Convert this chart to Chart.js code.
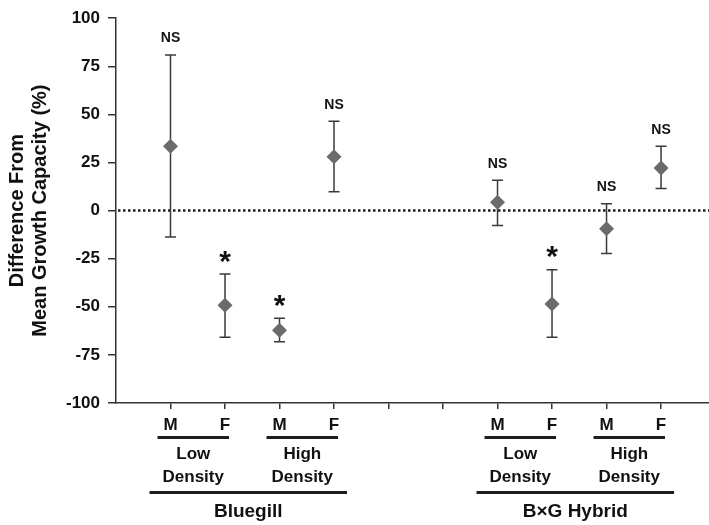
<!DOCTYPE html>
<html><head><meta charset="utf-8">
<script src="https://cdn.jsdelivr.net/npm/chart.js@4.4.0/dist/chart.umd.min.js"></script>
<style>html,body{margin:0;padding:0;background:#fff}#wrap{width:709px;height:525px}</style>
</head><body><div id="wrap"><canvas id="c" width="709" height="525"></canvas></div>
<script>
const FONT = "'Liberation Sans', Arial, Helvetica, sans-serif";

// Slots along the x axis (empty slots separate the two species)
const slotLabels = ['M', 'F', 'M', 'F', '', '', 'M', 'F', 'M', 'F'];
const means  = [33.4, -49.2, -62.2, 28.0, null, null, 4.3, -48.5, -9.4, 22.2];
const upper  = [80.9, -33.0, -56.0, 46.5, null, null, 15.8, -30.8, 3.6, 33.5];
const lower  = [-13.7, -65.8, -68.2, 9.8, null, null, -7.7, -65.8, -22.3, 11.5];
const signif = ['NS', '*', '*', 'NS', '', '', 'NS', '*', 'NS', 'NS'];

const densityLabels = [['Low', 'Density'], ['High', 'Density'], ['Low', 'Density'], ['High', 'Density']];
const densitySlots  = [[0, 1], [2, 3], [6, 7], [8, 9]];
const speciesLabels = ['Bluegill', 'B×G Hybrid'];
const speciesSlots  = [[0, 3], [6, 9]];

const yTickMin = -100, yTickMax = 100, yTickStep = 25;

const points = [];
means.forEach((m, i) => { if (m !== null) points.push({ x: i + 1, y: m }); });

function textCenterY(ctx, txt, cy) {
  const m = ctx.measureText(txt);
  return cy + (m.actualBoundingBoxAscent - m.actualBoundingBoxDescent) / 2;
}

const extras = {
  id: 'extras',
  beforeDatasetsDraw(chart) {
    const { ctx, chartArea, scales: { x, y } } = chart;
    ctx.save();
    const y0 = y.getPixelForValue(0);
    ctx.strokeStyle = '#1e1e1e';
    ctx.lineWidth = 2.5;
    ctx.setLineDash([2.5, 2.5]);
    ctx.beginPath();
    ctx.moveTo(chartArea.left + 2, y0);
    ctx.lineTo(chartArea.right, y0);
    ctx.stroke();
    ctx.setLineDash([]);
    ctx.strokeStyle = '#3a3a3a';
    ctx.lineWidth = 1.5;
    means.forEach((m, i) => {
      if (m === null) return;
      const px = x.getPixelForValue(i + 1);
      const yt = y.getPixelForValue(upper[i]);
      const yb = y.getPixelForValue(lower[i]);
      ctx.beginPath();
      ctx.moveTo(px, yt); ctx.lineTo(px, yb);
      ctx.moveTo(px - 5.5, yt); ctx.lineTo(px + 5.5, yt);
      ctx.moveTo(px - 5.5, yb); ctx.lineTo(px + 5.5, yb);
      ctx.stroke();
    });
    ctx.restore();
  },
  afterDatasetsDraw(chart) {
    const { ctx, scales: { x, y } } = chart;
    ctx.save();
    ctx.fillStyle = '#111';
    ctx.textAlign = 'center';
    ctx.textBaseline = 'alphabetic';
    signif.forEach((s, i) => {
      if (!s) return;
      const px = x.getPixelForValue(i + 1);
      const yt = y.getPixelForValue(upper[i]);
      ctx.font = s === '*' ? `bold 30px ${FONT}` : `bold 14px ${FONT}`;
      const cy = yt - 17.5;
      ctx.fillText(s, px, textCenterY(ctx, s, cy));
    });
    ctx.restore();
  },
  afterDraw(chart) {
    const { ctx, scales: { x } } = chart;
    ctx.save();
    ctx.fillStyle = '#111';
    ctx.strokeStyle = '#1e1e1e';
    ctx.textAlign = 'center';
    ctx.textBaseline = 'middle';
    densitySlots.forEach((sp, k) => {
      const l = x.getPixelForValue(sp[0] + 1) - 13;
      const r = x.getPixelForValue(sp[1] + 1) + 4;
      ctx.lineWidth = 3;
      ctx.beginPath(); ctx.moveTo(l, 437.5); ctx.lineTo(r, 437.5); ctx.stroke();
      ctx.font = `bold 17px ${FONT}`;
      const c = (l + r) / 2;
      ctx.fillText(densityLabels[k][0], c, 454);
      ctx.fillText(densityLabels[k][1], c, 477);
    });
    speciesSlots.forEach((sp, k) => {
      const l = x.getPixelForValue(sp[0] + 1) - 21;
      const r = x.getPixelForValue(sp[1] + 1) + 13;
      ctx.lineWidth = 3;
      ctx.beginPath(); ctx.moveTo(l, 492.5); ctx.lineTo(r, 492.5); ctx.stroke();
      ctx.font = `bold 19px ${FONT}`;
      ctx.fillText(speciesLabels[k], (l + r) / 2, 512);
    });
    ctx.restore();
  }
};

new Chart(document.getElementById('c'), {
  type: 'scatter',
  data: {
    datasets: [{
      data: points,
      pointStyle: 'rectRot',
      pointRadius: 7.5,
      pointHoverRadius: 7.5,
      backgroundColor: '#6b6b6d',
      borderColor: '#6b6b6d',
      borderWidth: 0
    }]
  },
  options: {
    responsive: false,
    animation: false,
    events: [],
    layout: { autoPadding: false, padding: { top: 14, left: 0, right: 0, bottom: 0 } },
    plugins: { legend: { display: false }, tooltip: { enabled: false } },
    scales: {
      x: {
        type: 'linear',
        min: 0,
        max: 10.88,
        afterBuildTicks: s => { s.ticks = slotLabels.map((_, i) => ({ value: i + 1 })); },
        afterFit: s => { s.height = 122; },
        grid: { drawOnChartArea: false, drawTicks: true, tickLength: 6, color: '#333', lineWidth: 1.5 },
        border: { color: '#333', width: 1.5 },
        ticks: {
          callback: v => slotLabels[Math.round(v) - 1] ?? '',
          font: { family: FONT, size: 17, weight: 'bold' },
          color: '#111', padding: 6, maxRotation: 0, autoSkip: false
        }
      },
      y: {
        min: yTickMin,
        max: yTickMax,
        afterFit: s => { s.width = 116; },
        grid: { drawOnChartArea: false, drawTicks: true, tickLength: 8, color: '#333', lineWidth: 1.5 },
        border: { color: '#333', width: 1.5 },
        ticks: {
          stepSize: yTickStep,
          font: { family: FONT, size: 17, weight: 'bold' },
          color: '#111', padding: 8
        },
        title: {
          display: true,
          text: ['Difference From', 'Mean Growth Capacity (%)'],
          font: { family: FONT, size: 20, weight: 'bold', lineHeight: 23 / 20 },
          color: '#111',
          padding: { top: 6, bottom: 0 }
        }
      }
    }
  },
  plugins: [extras]
});
</script>
</body></html>
